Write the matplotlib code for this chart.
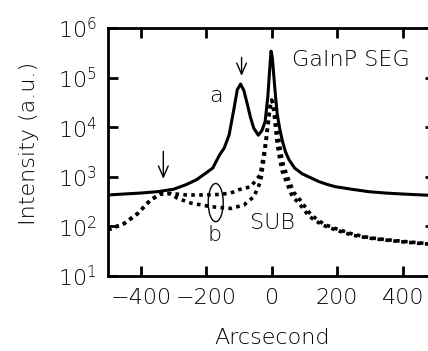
import matplotlib
matplotlib.use("Agg")
import matplotlib.pyplot as plt
from matplotlib.patches import Ellipse

plt.rcParams["font.family"] = ["DejaVu Sans"]
plt.rcParams["font.weight"] = "light"
plt.rcParams["axes.labelweight"] = "light"

# curve a: GaInP SEG sample (solid)
seg_x = [-500, -450, -400, -350, -300, -260, -230, -200, -180, -160, -145, -130,
         -115, -105, -95, -85, -75, -65, -55, -41, -30, -20, -12, -6, -2, 2, 7,
         12, 17, 25, 32, 42, 53, 70, 93, 120, 144, 170, 195, 245, 297, 348, 398,
         459, 500]
seg_y = [430, 450, 470, 500, 560, 700, 870, 1200, 1500, 2700, 3800, 7000,
         24000, 57000, 74000, 55000, 30000, 16000, 9600, 6900, 8500, 13000,
         40000, 150000, 340000, 250000, 98000, 40000, 18000, 9000, 5500, 3200,
         2200, 1500, 1150, 950, 800, 700, 630, 560, 500, 470, 450, 430, 420]

# curve b: substrate scans (dotted)
sub1_x = [-500, -450, -410, -370, -340, -310, -260, -210, -160, -125, -100, -64,
          -35, -18, -8, -3, 0, 3, 8, 17, 25, 32, 48, 63, 83, 114, 154, 195, 245,
          297, 348, 398, 459, 500]
sub1_y = [85, 115, 180, 340, 450, 460, 430, 430, 440, 470, 550, 630, 1100,
          5000, 18000, 30000, 35000, 32000, 17000, 4500, 2200, 1300, 700, 400,
          295, 160, 107, 85, 67, 58, 53, 49, 45, 43]

sub2_x = [-500, -450, -410, -370, -340, -310, -288, -247, -186, -125, -85, -54,
          -34, -23, -13, -5, 0, 4, 10, 20, 28, 36, 52, 68, 90, 120, 160, 200,
          250, 300, 350, 400, 460, 500]
sub2_y = [85, 115, 180, 340, 450, 460, 370, 295, 250, 230, 270, 400, 800, 2500,
          9000, 25000, 35000, 30000, 20000, 6500, 3000, 1700, 850, 480, 320,
          170, 110, 88, 69, 59, 54, 50, 46, 44]

fig = plt.figure(figsize=(4.28, 3.51), dpi=100)
ax = fig.add_axes([0.2523, 0.2137, 0.765, 0.7066])

ax.plot(seg_x, seg_y, color="black", lw=2.2)
ax.plot(sub1_x, sub1_y, color="black", lw=2.6, linestyle=(0, (1.0, 1.2)))
ax.plot(sub2_x, sub2_y, color="black", lw=2.6, linestyle=(0, (1.0, 1.2)))

ax.set_yscale("log")
ax.set_xlim(-500, 500)
ax.set_ylim(10, 1e6)
ax.set_xticks([-400, -200, 0, 200, 400])
ax.set_yticks([1e1, 1e2, 1e3, 1e4, 1e5, 1e6])
ax.minorticks_off()
ax.tick_params(axis="both", direction="in", length=7, width=2,
               top=True, right=True, labelsize=16)
ax.tick_params(axis="x", pad=9)
ax.tick_params(axis="y", pad=8)
for s in ax.spines.values():
    s.set_linewidth(2)

ax.set_xlabel("Arcsecond", fontsize=16, fontweight="light")
ax.set_ylabel("Intensity (a.u.)", fontsize=16, fontweight="light")
ax.xaxis.set_label_coords(0.5, -0.21)
ax.yaxis.set_label_coords(-0.21, 0.536)

# arrows and labels
arr = dict(arrowstyle="->,head_length=0.8,head_width=0.35", lw=1, color="black")
ax.annotate("", xy=(-92, 9.5e4), xytext=(-92, 2.9e5), arrowprops=arr)
ax.annotate("", xy=(-331, 800), xytext=(-331, 3700), arrowprops=arr)
ax.text(-171, 4.2e4, "a", fontsize=16, ha="center", va="center")
ax.text(-176, 67, "b", fontsize=16, ha="center", va="center")
ax.text(1, 115, "SUB", fontsize=16, ha="center", va="center")
ax.text(62, 2.27e5, "GaInP SEG", fontsize=16, ha="left", va="center")
ax.add_patch(Ellipse((0.329, 0.296), 0.0458, 0.154, transform=ax.transAxes,
                     fill=False, lw=1, color="black"))

fig.savefig("out.png", dpi=100)
